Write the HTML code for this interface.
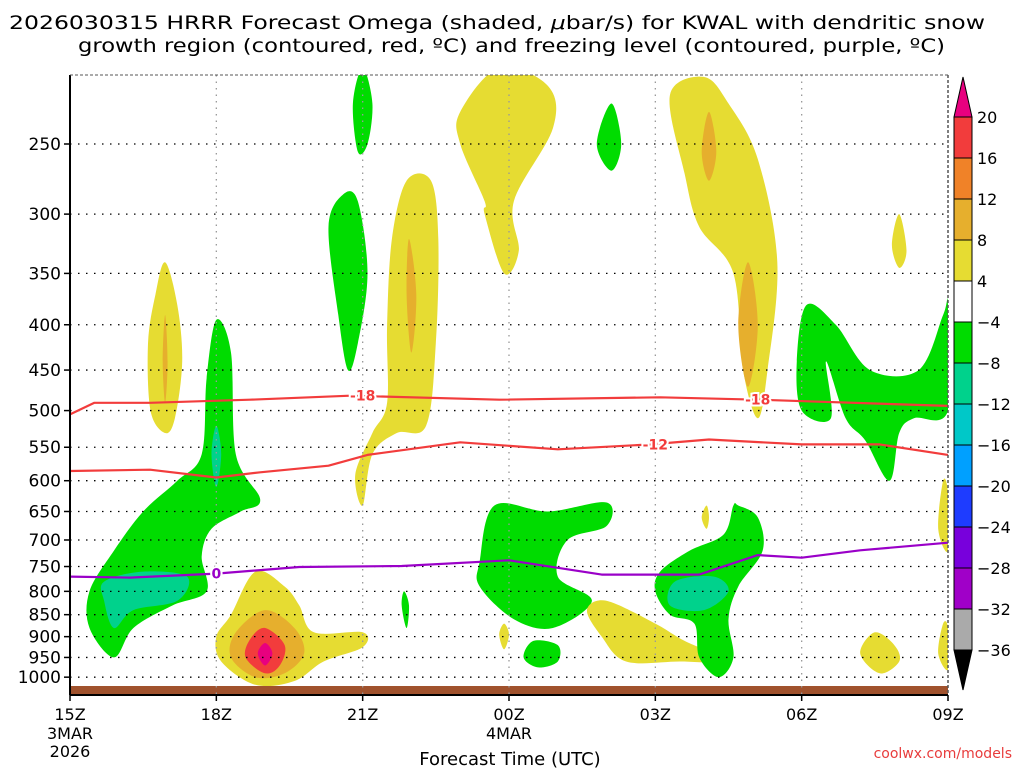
<!DOCTYPE html>
<html><head><meta charset="utf-8">
<style>
html,body{margin:0;padding:0;background:#fff;width:1024px;height:768px;overflow:hidden}
svg{display:block;font-family:"DejaVu Sans","Liberation Sans",sans-serif}
</style></head>
<body>
<svg id="chart" width="1024" height="768" viewBox="0 0 1024 768" xmlns="http://www.w3.org/2000/svg">
<text x="9" y="29" font-size="19" textLength="976" lengthAdjust="spacingAndGlyphs" fill="#000">2026030315 HRRR Forecast Omega (shaded, <tspan font-style="italic">μ</tspan>bar/s) for KWAL with dendritic snow</text>
<text x="78" y="52" font-size="19" textLength="867" lengthAdjust="spacingAndGlyphs" fill="#000">growth region (contoured, red, ºC) and freezing level (contoured, purple, ºC)</text>
<g id="shading"></g>
<g id="grid"></g>
<g id="lines"></g>
<g id="axes"></g>
<g id="cbar"></g>
<text x="510" y="765" font-size="18" text-anchor="middle" fill="#000">Forecast Time (UTC)</text>
<text x="1012" y="758" font-size="14" text-anchor="end" fill="#e83c3c">coolwx.com/models</text>
</svg>
<script>
const pressureTicks=[250,300,350,400,450,500,550,600,650,700,750,800,850,900,950,1000];
const timeTicks=[0,3,6,9,12,15,18];
const timeLabels=["15Z","18Z","21Z","00Z","03Z","06Z","09Z"];
const cbarLevels=[20,16,12,8,4,-4,-8,-12,-16,-20,-24,-28,-32,-36];
const cbarColors=["#f23c3c","#f08228","#e6af2d","#e6dc32","#ffffff","#00dc00","#00d28c","#00c8c8","#00a0ff","#1e3cff","#7800dc","#a000c8","#aaaaaa"];
const blobYellow1=[[1.95,340],[2.2,380],[2.3,440],[2.15,510],[1.95,530],[1.65,500],[1.6,420],[1.75,370]];
const blobOrange1=[[1.95,390],[2.0,440],[1.95,490],[1.9,440]];
const blobGreen1=[[3.0,395],[3.3,430],[3.4,560],[3.9,630],[3.5,650],[2.9,680],[2.7,730],[2.8,800],[2.1,830],[1.3,880],[0.9,950],[0.4,880],[0.4,800],[0.9,720],[1.5,650],[2.2,600],[2.7,560],[2.8,460]];
const blobTeal1=[[0.7,780],[1.5,760],[2.4,770],[2.2,820],[1.3,840],[0.9,880],[0.7,820]];
const blobTeal2=[[3.0,520],[3.1,560],[3.0,610],[2.9,560]];
const blobYellow2=[[3.8,760],[4.4,790],[4.7,830],[5.0,890],[6.0,890],[6.0,925],[5.2,960],[4.6,1010],[3.8,1020],[3.1,960],[3.0,900],[3.3,850]];
const blobOrange2=[[4.0,840],[4.6,880],[4.8,940],[4.4,990],[3.8,1000],[3.3,950],[3.4,890]];
const blobRed2=[[4.0,880],[4.4,920],[4.3,970],[4.0,990],[3.6,950],[3.7,905]];
const blobMag2=[[4.0,915],[4.15,940],[4.0,970],[3.85,940]];
const blobGreen3=[[5.6,285],[5.9,290],[6.1,350],[5.9,420],[5.7,450],[5.5,390],[5.3,310]];
const blobGreen4=[[6.0,205],[6.2,225],[6.1,250],[5.9,255],[5.8,225]];
const blobYellow5=[[6.9,275],[7.4,275],[7.55,320],[7.5,420],[7.3,520],[6.7,530],[6.2,560],[6.0,640],[5.85,590],[6.2,530],[6.5,490],[6.5,400],[6.6,320]];
const blobOrange5=[[6.95,320],[7.1,370],[7.0,430],[6.9,370]];
const blobYellow6=[[8.8,205],[9.8,215],[9.9,240],[9.1,290],[9.2,330],[8.9,350],[8.5,300],[8.5,290],[8.0,250],[8.0,230]];
const blobGreen7=[[8.7,640],[9.8,650],[11.0,635],[11.0,675],[10.2,700],[10.0,770],[10.7,820],[9.9,880],[9.1,860],[8.4,790],[8.4,740]];
const blobGreen8=[[11.1,225],[11.3,250],[11.1,268],[10.8,250]];
const blobGreen9=[[9.5,910],[10.0,920],[10.0,960],[9.6,975],[9.3,950]];
const blobYellow9=[[11.0,820],[12.0,870],[12.6,910],[13.5,960],[12.5,960],[11.4,960],[10.9,900],[10.6,840]];
const blobYellow10=[[13.0,210],[13.5,225],[14.1,260],[14.5,340],[14.3,450],[14.1,510],[13.8,450],[13.6,350],[12.9,310],[12.6,270],[12.3,220]];
const blobOrange10a=[[13.1,230],[13.25,255],[13.1,275],[12.95,255]];
const blobOrange10b=[[13.9,340],[14.1,400],[13.9,470],[13.7,400]];
const blobGreen11=[[13.7,640],[14.1,660],[14.2,720],[13.7,790],[13.5,860],[13.6,950],[13.3,1000],[12.9,950],[12.8,870],[12.3,850],[12.0,800],[12.1,760],[12.7,720],[13.4,690],[13.6,640]];
const blobTeal11=[[12.4,780],[13.2,770],[13.5,800],[13.0,840],[12.3,830]];
const blobGreen12=[[15.1,380],[15.7,400],[16.4,450],[17.4,450],[17.9,390],[18.0,380],[18.0,500],[17.3,510],[17.0,530],[16.8,600],[16.3,540],[15.9,510],[15.5,440],[15.6,510],[15.0,500],[14.9,440]];
const blobYellow13=[[17.0,300],[17.15,330],[17.0,345],[16.85,325]];
const blobYellow14=[[16.5,890],[16.9,920],[17.0,960],[16.6,990],[16.2,940]];
const blobYellow15=[[17.9,600],[18.0,620],[18.0,720],[17.8,680]];
const blobYellow16=[[17.9,870],[18.0,880],[18.0,980],[17.8,940]];
const blobYellow17=[[13.05,640],[13.1,660],[13.05,680],[12.95,660]];
const blobYellow18=[[8.9,870],[9.0,895],[8.9,930],[8.8,895]];
const blobGreen19=[[6.85,800],[6.95,830],[6.9,880],[6.8,830]];
const shapes=[
 [blobYellow1,"#e6dc32"],[blobOrange1,"#e6af2d"],[blobGreen1,"#00dc00"],[blobTeal1,"#00d28c"],[blobTeal2,"#00d28c"],
 [blobYellow2,"#e6dc32"],[blobOrange2,"#e6af2d"],[blobRed2,"#f08228"],[blobRed2,"#f23c3c"],[blobMag2,"#e8007f"],
 [blobGreen3,"#00dc00"],[blobGreen4,"#00dc00"],[blobYellow5,"#e6dc32"],[blobOrange5,"#e6af2d"],[blobYellow6,"#e6dc32"],
 [blobGreen7,"#00dc00"],[blobGreen8,"#00dc00"],[blobGreen9,"#00dc00"],[blobYellow9,"#e6dc32"],[blobYellow10,"#e6dc32"],
 [blobOrange10a,"#e6af2d"],[blobOrange10b,"#e6af2d"],[blobGreen11,"#00dc00"],[blobTeal11,"#00d28c"],[blobGreen12,"#00dc00"],
 [blobYellow13,"#e6dc32"],[blobYellow14,"#e6dc32"],[blobYellow15,"#e6dc32"],[blobYellow16,"#e6dc32"],[blobYellow17,"#e6dc32"],
 [blobYellow18,"#e6dc32"],[blobGreen19,"#00dc00"]];
const iso18Hours=[0,0.5,1.64,3.69,5.74,8.8,12.1,14.1,18];
const iso18Pres=[505,490,490,486,481,486,483,486,494];
const iso12Hours=[0,1.64,3.0,3.9,5.3,6.1,8.0,10.0,11.9,13.1,15.0,16.6,18];
const iso12Pres=[585,583,595,587,577,561,543,553,546,539,546,546,561];
const iso0Hours=[0,1.23,3.0,4.7,6.8,9.0,10.9,12.9,14.1,15.0,16.2,18];
const iso0Pres=[770,772,764,751,749,738,766,766,728,733,719,705];

const X0=70,X1=948,Y0=75,Y1=695;
const xs=h=>X0+h*(X1-X0)/18;
const ys=p=>144+(Math.log(p)-Math.log(250))*384.6;
const NS="http://www.w3.org/2000/svg";
function mk(tag,attrs,parent){const e=document.createElementNS(NS,tag);for(const k in attrs)e.setAttribute(k,attrs[k]);parent.appendChild(e);return e;}
function smoothClosed(pts){const n=pts.length;let d=`M${pts[0][0]},${pts[0][1]}`;
 for(let i=0;i<n;i++){const p0=pts[(i-1+n)%n],p1=pts[i],p2=pts[(i+1)%n],p3=pts[(i+2)%n];
  const c1=[p1[0]+(p2[0]-p0[0])/6,p1[1]+(p2[1]-p0[1])/6],c2=[p2[0]-(p3[0]-p1[0])/6,p2[1]-(p3[1]-p1[1])/6];
  d+=`C${c1[0].toFixed(1)},${c1[1].toFixed(1)} ${c2[0].toFixed(1)},${c2[1].toFixed(1)} ${p2[0].toFixed(1)},${p2[1].toFixed(1)}`;}
 return d+"Z";}
const shG=document.getElementById('shading');
mk('clipPath',{id:'plotclip'},shG);
mk('rect',{x:X0,y:Y0,width:X1-X0,height:Y1-Y0},shG.lastChild);
const shIn=mk('g',{'clip-path':'url(#plotclip)'},shG);
shapes.forEach(([poly,col],i)=>{
 const pts=poly.map(([h,p])=>[xs(h),ys(p)]);
 const el=mk('path',{d:smoothClosed(pts),fill:col},shIn);
 
 
});
const ground=mk('rect',{x:X0,y:686,width:X1-X0,height:9,fill:'#a0522d'},shIn);



const gG=document.getElementById('grid');
pressureTicks.forEach(p=>{const l=mk('line',{x1:X0,x2:X1,y1:ys(p),y2:ys(p),stroke:'#000','stroke-width':1.3,'stroke-dasharray':'1.5 6.5'},gG);
 });
timeTicks.slice(1,6).forEach(h=>{const l=mk('line',{x1:xs(h),x2:xs(h),y1:Y0,y2:Y1,stroke:'#999','stroke-width':1.3,'stroke-dasharray':'1.5 5'},gG);
 });

const lG=document.getElementById('lines');
function line(hs,ps,col,name){const d=hs.map((h,i)=>(i?'L':'M')+xs(h).toFixed(1)+','+ys(ps[i]).toFixed(1)).join('');
 const e=mk('path',{d,fill:'none',stroke:col,'stroke-width':2.2,'stroke-linejoin':'round'},lG);
 }
line(iso18Hours,iso18Pres,'#f23c3c','isotherm-minus18');
line(iso12Hours,iso12Pres,'#f23c3c','isotherm-minus12');
line(iso0Hours,iso0Pres,'#9a00c8','freezing-level-0');
function lab(txt,h,p,col,name){const t=mk('text',{x:xs(h),y:ys(p)+5,'font-size':14,'font-weight':'bold','text-anchor':'middle',fill:col,stroke:'#fff','stroke-width':4,'paint-order':'stroke'},lG);t.textContent=txt;
 }
lab('-18',6.0,481,'#f23c3c','label-minus18-a');
lab('-18',14.1,486,'#f23c3c','label-minus18-b');
lab('-12',12.0,546,'#f23c3c','label-minus12');
lab('0',3.0,764,'#9a00c8','label-zero');

const aG=document.getElementById('axes');
mk('line',{x1:X0,x2:X0,y1:Y0,y2:Y1,stroke:'#000','stroke-width':2},aG);
mk('line',{x1:X0,x2:X1,y1:Y1,y2:Y1,stroke:'#000','stroke-width':2},aG);
mk('line',{x1:X1,x2:X1,y1:Y0,y2:Y1,stroke:'#555','stroke-width':1.5,'stroke-dasharray':'3 2'},aG);
mk('line',{x1:X0,x2:X1,y1:Y0,y2:Y0,stroke:'#555','stroke-width':1,'stroke-dasharray':'3 2'},aG);
pressureTicks.forEach(p=>{mk('line',{x1:X0-6,x2:X0,y1:ys(p),y2:ys(p),stroke:'#000','stroke-width':1.5},aG);
 const t=mk('text',{x:61,y:ys(p)+6,'font-size':17,'text-anchor':'end',fill:'#000'},aG);t.textContent=p;
 });
timeTicks.forEach((h,i)=>{mk('line',{x1:xs(h),x2:xs(h),y1:Y1,y2:Y1+6,stroke:'#000','stroke-width':1.5},aG);
 const t=mk('text',{x:xs(h),y:720,'font-size':16,'text-anchor':'middle',fill:'#000'},aG);t.textContent=timeLabels[i];
 });
[['3MAR',xs(0),739],['2026',xs(0),757],['4MAR',xs(9),739]].forEach(([s,x,y])=>{const t=mk('text',{x,y,'font-size':16,'text-anchor':'middle',fill:'#000'},aG);t.textContent=s;
 });

const cG=document.getElementById('cbar');
const CX=954,CW=18,CT=117,CS=41;
mk('polygon',{points:`${CX},${CT} ${CX+CW},${CT} ${CX+CW/2},${CT-40}`,fill:'#e8007f',stroke:'#000'},cG);
cbarColors.forEach((c,i)=>{const r=mk('rect',{x:CX,y:CT+i*CS,width:CW,height:CS,fill:c,stroke:'#000','stroke-width':1},cG);
 });
const CB=CT+cbarColors.length*CS;
mk('polygon',{points:`${CX},${CB} ${CX+CW},${CB} ${CX+CW/2},${CB+40}`,fill:'#000',stroke:'#000'},cG);
cbarLevels.forEach((v,i)=>{const t=mk('text',{x:977,y:CT+i*CS+6,'font-size':16,fill:'#000'},cG);t.textContent=v<0?'−'+(-v):String(v);
 });
</script>
</body></html>
